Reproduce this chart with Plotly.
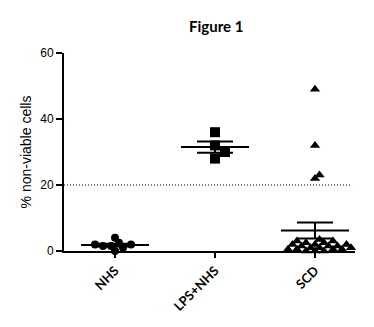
import numpy as np
import plotly.graph_objects as go

# ---- data ----
categories = ["NHS", "LPS+NHS", "SCD"]
nhs_values = [4, 2.5, 2, 2, 1.5, 1.5, 1, 0]
lps_nhs_values = [36, 32, 30, 28]
scd_values = [49, 32, 23, 22, 3.5, 3, 3, 2.5, 2.5, 2, 2, 2, 1.5, 1.5,
              1.5, 1, 1, 1, 0.5, 0.5, 0.5, 0.5, 0, 0, 0]
threshold = 20
y_ticks = [0, 20, 40, 60]
title_text = "Figure 1"
y_title = "% non-viable cells"

groups = [nhs_values, lps_nhs_values, scd_values]
symbols = ["circle", "square", "triangle-up"]
msizes = [8, 10, 9]

# ---- layout constants ----
W, H = 374, 327
ml, mr, mt, mb = 64, 19, 53, 76
x_range = [-0.51, 2.40]
y_range = [0, 60]
px_per_x = (W - ml - mr) / (x_range[1] - x_range[0])
px_per_y = (H - mt - mb) / (y_range[1] - y_range[0])


def beeswarm(vals, size_px, overlap=0.72):
    """Horizontal offsets (x units) so markers overlap only partially."""
    order = np.argsort(vals)
    placed = []
    offs = np.zeros(len(vals))
    step = size_px * 0.5 / px_per_x
    dmin = size_px * overlap
    for i in order:
        v = vals[i]
        cands = [0.0]
        for n in range(1, 60):
            cands += [n * step, -n * step]
        for c in cands:
            ok = True
            for (pv, pc) in placed:
                dy = (pv - v) * px_per_y
                dx = (pc - c) * px_per_x
                if (dx * dx + dy * dy) ** 0.5 < dmin:
                    ok = False
                    break
            if ok:
                offs[i] = c
                placed.append((v, c))
                break
    return offs


fig = go.Figure()

for gi, vals in enumerate(groups):
    vals = np.array(vals, dtype=float)
    ov = [0.72, 1.0, 0.62][gi]
    offs = beeswarm(vals, msizes[gi], ov)
    fig.add_trace(go.Scatter(
        x=gi + offs, y=vals, mode="markers",
        marker=dict(symbol=symbols[gi], size=msizes[gi], color="black"),
        cliponaxis=False, showlegend=False, hoverinfo="y"))
    mean = vals.mean()
    sem = vals.std(ddof=1) / np.sqrt(len(vals))
    half = 34 / px_per_x
    fig.add_trace(go.Scatter(
        x=[gi - half, gi + half], y=[mean, mean], mode="lines",
        line=dict(color="black", width=2), showlegend=False, hoverinfo="skip"))
    fig.add_trace(go.Scatter(
        x=[gi], y=[mean], mode="markers",
        marker=dict(size=1, color="black"),
        error_y=dict(type="data", array=[sem], color="black", thickness=2, width=18),
        showlegend=False, hoverinfo="skip"))

fig.add_shape(type="line", xref="paper", yref="y", x0=0, x1=0.99,
              y0=threshold, y1=threshold,
              line=dict(color="black", width=1, dash="1px,2px"))

fig.update_layout(
    width=W, height=H,
    margin=dict(l=ml, r=mr, t=mt, b=mb),
    paper_bgcolor="white", plot_bgcolor="white",
    title=dict(text="<b>" + title_text + "</b>", x=0.578, xanchor="center",
               y=0.918, yanchor="middle",
               font=dict(family="Lato", size=15, color="black")),
    xaxis=dict(range=x_range, tickmode="array", tickvals=[0, 1, 2],
               ticktext=["<b>%s</b>" % c for c in categories],
               tickangle=-45, showgrid=False, zeroline=False,
               showline=True, linecolor="black", linewidth=2,
               ticks="outside", ticklen=5, tickwidth=2, tickcolor="black",
               tickfont=dict(family="Lato", size=13, color="black")),
    yaxis=dict(range=y_range, tickmode="array", tickvals=y_ticks,
               showgrid=False, zeroline=False,
               showline=True, linecolor="black", linewidth=2,
               ticks="outside", ticklen=6, tickwidth=2, tickcolor="black",
               tickfont=dict(family="Liberation Sans", size=12, color="black"),
               tickprefix="<b>", ticksuffix="</b>",
               title=dict(text=y_title, standoff=5,
                          font=dict(family="Liberation Sans", size=14, color="black"))),
)

fig.write_html("out.html")
